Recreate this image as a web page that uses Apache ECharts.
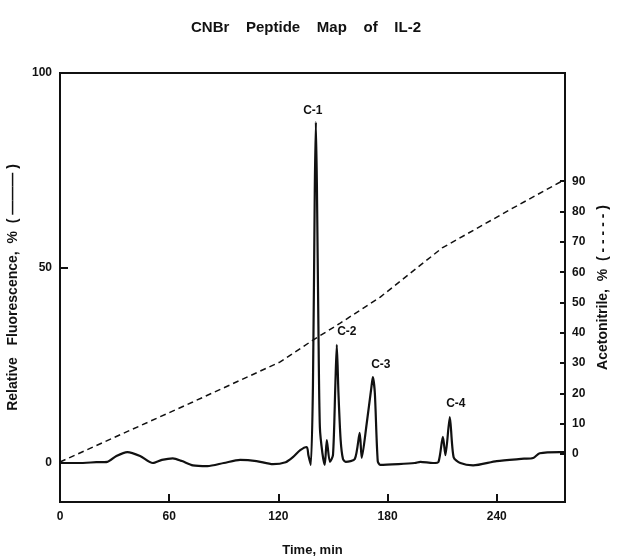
<!DOCTYPE html>
<html>
<head>
<meta charset="utf-8">
<script src="https://cdn.jsdelivr.net/npm/echarts@6/dist/echarts.min.js"></script>
<style>
  html, body { margin: 0; padding: 0; background: #fff; }
  #chart { width: 617px; height: 557px; }
</style>
</head>
<body>
<div id="chart"></div>
<script>
// fluorescence trace (time in min, relative fluorescence %)
const fluorTime = [0, 10, 20, 26, 31, 37, 44, 51, 56, 62, 67, 73, 81, 90, 99, 108, 117, 124, 128, 132, 135.6, 136.5, 137.8,
  139, 140, 140.6, 141.2, 142, 142.8, 144.2, 145.5, 146.6, 148.3, 150, 151.3, 152.1, 153, 154.2, 155.5, 157,
  162, 164.7, 165.8, 168.5, 171, 171.9, 173, 174.6, 176, 186, 195, 198, 205, 208, 210.4, 211.8, 214.2, 216.3,
  220, 227, 240, 255, 260, 263.6, 274.6, 277.5];
const fluorValue = [0, 0, 0.2, 0.3, 1.8, 2.8, 1.8, 0, 0.8, 1.2, 0.5, -0.6, -0.8, 0, 0.8, 0.5, -0.3, 0.2, 1.5, 3.3, 4.1, 2, -0.5,
  20, 70, 87.4, 70, 35, 9.2, 2.5, -0.5, 5.9, 0.3, 2, 20, 30.3, 18, 6, 1, 0.3,
  1, 7.7, 1.3, 10, 19, 22, 18, 0.5, -0.5, -0.3, 0, 0.3, 0, 0.3, 6.7, 2, 11.8, 1.5,
  0, -0.6, 0.5, 1.1, 1.3, 2.5, 2.8, 2.8];

// acetonitrile gradient (dashed), %
const gradTime = [0, 73, 121, 139, 154, 176, 210, 249, 277.5];
const gradValue = [-2.6, 17.2, 30.4, 37.6, 43.2, 51.8, 68.0, 81.2, 90.6];

// peak names
const peakNames = ["C-1", "C-2", "C-3", "C-4"];
const peakTime = [140.6, 152.1, 171.9, 214.2];
const peakValue = [87.4, 30.3, 22, 11.8];

const xTicks = [0, 60, 120, 180, 240];
const leftTicks = [0, 50, 100];
const rightTicks = [0, 10, 20, 30, 40, 50, 60, 70, 80, 90];

const peakOffsets = [[-3, 0], [10, -2], [8, -2], [6, -2]];

const chart = echarts.init(document.getElementById("chart"));
const font = "Liberation Sans, Arial, sans-serif";
const ink = "#111";

const option = {
  backgroundColor: "#fff",
  animation: false,
  title: {
    text: "CNBr    Peptide    Map    of    IL-2",
    left: 301,
    textAlign: "center",
    top: 15,
    textStyle: { fontFamily: font, fontWeight: "bold", fontSize: 15, color: ink },
  },
  grid: {
    left: 60,
    right: 52,
    top: 73,
    bottom: 55,
    outerBoundsMode: "none",
    containLabel: false,
    show: true,
    borderColor: ink,
    borderWidth: 2,
  },
  xAxis: {
    type: "value",
    min: 0,
    max: 277.5,
    name: "Time, min",
    nameLocation: "middle",
    nameGap: 42,
    nameTextStyle: { fontFamily: font, fontWeight: "bold", fontSize: 13, color: ink },
    axisLine: { show: true, onZero: false, lineStyle: { color: ink, width: 2 } },
    axisTick: { show: true, inside: true, length: 8, customValues: xTicks, lineStyle: { color: ink, width: 2 } },
    axisLabel: { customValues: xTicks, margin: 9, fontFamily: font, fontWeight: "bold", fontSize: 12, color: ink },
    splitLine: { show: false },
  },
  yAxis: [
    {
      type: "value",
      min: -10,
      max: 100,
      position: "left",
      name: "Relative   Fluorescence,  %  ( ——— )",
      nameLocation: "middle",
      nameRotate: 90,
      nameGap: 40,
      nameTextStyle: { fontFamily: font, fontWeight: "bold", fontSize: 14, color: ink },
      axisLine: { show: true, onZero: false, lineStyle: { color: ink, width: 2 } },
      axisTick: { show: true, inside: true, length: 8, customValues: leftTicks, lineStyle: { color: ink, width: 2 } },
      axisLabel: { customValues: leftTicks, margin: 8, fontFamily: font, fontWeight: "bold", fontSize: 12, color: ink },
      splitLine: { show: false },
    },
    {
      type: "value",
      min: -15.8,
      max: 125.7,
      position: "right",
      name: "Acetonitrile,  %  ( - - - - - )",
      nameLocation: "middle",
      nameRotate: 90,
      nameGap: 25,
      nameTextStyle: { fontFamily: font, fontWeight: "bold", fontSize: 14, color: ink },
      axisLine: { show: true, onZero: false, lineStyle: { color: ink, width: 2 } },
      axisTick: { show: true, inside: true, length: 5, customValues: rightTicks, lineStyle: { color: ink, width: 2 } },
      axisLabel: { customValues: rightTicks, margin: 7, fontFamily: font, fontWeight: "bold", fontSize: 12, color: ink },
      splitLine: { show: false },
    },
  ],
  series: [
    {
      name: "Fluorescence",
      type: "line",
      yAxisIndex: 0,
      symbol: "none",
      smooth: 0.25,
      data: fluorTime.map((t, i) => [t, fluorValue[i]]),
      lineStyle: { color: ink, width: 2.2 },
      z: 3,
    },
    {
      name: "Acetonitrile",
      type: "line",
      yAxisIndex: 1,
      symbol: "none",
      data: gradTime.map((t, i) => [t, gradValue[i]]),
      lineStyle: { color: ink, width: 1.5, type: [6, 4] },
      z: 2,
    },
    {
      name: "Peaks",
      type: "scatter",
      yAxisIndex: 0,
      symbolSize: 0,
      itemStyle: { opacity: 1, color: ink },
      data: peakNames.map((n, i) => ({
        value: [peakTime[i], peakValue[i]],
        label: {
          show: true,
          formatter: n,
          position: "top",
          offset: peakOffsets[i],
          fontFamily: font,
          fontWeight: "bold",
          fontSize: 12,
          color: ink,
        },
      })),
      z: 4,
    },
  ],
};

chart.setOption(option);
</script>
</body>
</html>
